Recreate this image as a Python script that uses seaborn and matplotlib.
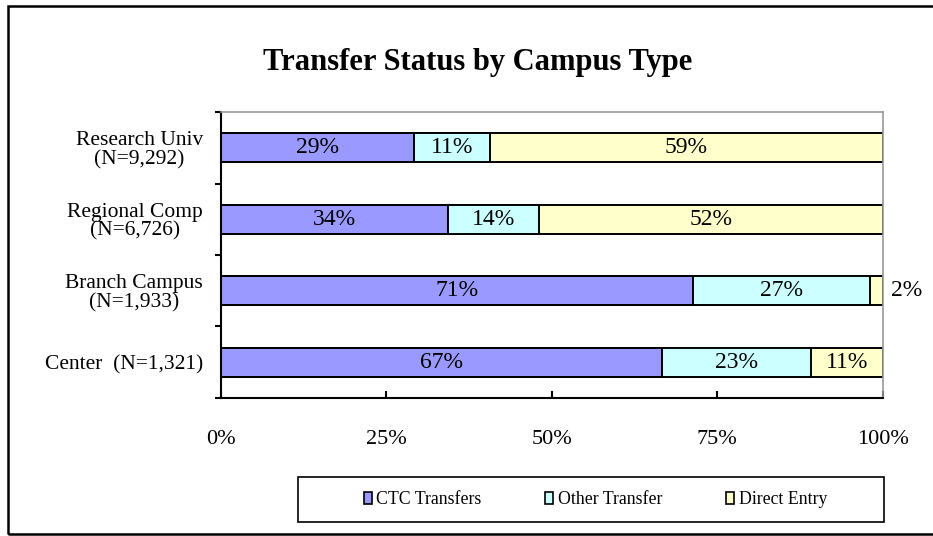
import matplotlib
matplotlib.use("Agg")
import matplotlib.pyplot as plt
import seaborn as sns
import pandas as pd
from matplotlib.patches import Patch, Rectangle

# values (percent of students per campus type)
campuses = ["Research Univ\n(N=9,292)", "Regional Comp\n(N=6,726)",
            "Branch Campus\n(N=1,933)", "Center  (N=1,321)"]
ctc_transfers = [29.2, 34.3, 71.3, 66.6]
other_transfer = [11.4, 13.8, 26.8, 22.6]
direct_entry = [59.4, 51.9, 1.9, 10.8]
series_names = ["CTC Transfers", "Other Transfer", "Direct Entry"]
colors = ["#9999FF", "#CCFFFF", "#FFFFCC"]

df = pd.DataFrame({"campus": campuses, "ctc": ctc_transfers,
                   "other": other_transfer, "direct": direct_entry})
df["cum_other"] = df["ctc"] + df["other"]
df["cum_direct"] = df["cum_other"] + df["direct"]

sns.set_style("white", {"text.color": "black", "xtick.color": "black",
                        "ytick.color": "black", "axes.labelcolor": "black"})
plt.rcParams["font.family"] = ["Liberation Serif", "DejaVu Serif"]

fig = plt.figure(figsize=(9.33, 5.36), dpi=100)
ax = fig.add_axes([0.237, 0.2575, 0.709, 0.5335])

# stacked bars: draw cumulative totals back to front
for col, c in zip(["cum_direct", "cum_other", "ctc"], colors[::-1]):
    sns.barplot(data=df, x=col, y="campus", orient="h", color=c, saturation=1,
                edgecolor="black", linewidth=1.4, width=0.41, ax=ax)

# segment labels
for i, row in df.iterrows():
    starts = [0, row["ctc"], row["cum_other"]]
    vals = [row["ctc"], row["other"], row["direct"]]
    for s, v in zip(starts, vals):
        if v < 4:
            ax.text(101.3, i, f"{v:.0f}%", va="center", ha="left", fontsize=17)
        else:
            ax.text(s + v / 2, i, f"{v:.0f}%", va="center", ha="center", fontsize=17)

ax.set_xlim(0, 100)
ax.set_ylim(3.5, -0.5)
ax.set_xticks([0, 25, 50, 75, 100])
ax.set_xticklabels(["0%", "25%", "50%", "75%", "100%"], fontsize=16)
ax.set_yticks([-0.5, 0.5, 1.5, 2.5, 3.5])
ax.set_yticklabels([])
ax.set_yticks(range(len(campuses)), minor=True)
ax.set_yticklabels(campuses, minor=True, fontsize=15.5, multialignment="center",
                   linespacing=1.0)
ax.tick_params(axis="y", which="major", direction="out", length=4, width=1.5)
ax.tick_params(axis="y", which="minor", length=0, pad=13)
ax.tick_params(axis="x", direction="in", length=5, width=1.5, pad=23)
ax.tick_params(left=True, bottom=True)
ax.set_xlabel("")
ax.set_ylabel("")

for side in ["left", "bottom"]:
    ax.spines[side].set_color("black")
    ax.spines[side].set_linewidth(1.5)
for side in ["top", "right"]:
    ax.spines[side].set_color("#999999")
    ax.spines[side].set_linewidth(1.2)

fig.text(0.512, 0.883, "Transfer Status by Campus Type", ha="center", va="center",
         fontsize=22, fontweight="bold")

# legend: frame drawn separately, entries centred inside it
fig.patches.append(Rectangle((0.3195, 0.026), 0.628, 0.084, transform=fig.transFigure,
                             fill=False, edgecolor="black", linewidth=1.2))
handles = [Patch(facecolor=c, edgecolor="black", linewidth=1.2) for c in colors]
fig.legend(handles, series_names, loc="center", ncol=3,
           bbox_to_anchor=(0.638, 0.068), frameon=False, fontsize=12.8,
           handlelength=0.45, handleheight=0.65, handletextpad=0.25,
           columnspacing=3.6)

# outer chart border (right edge runs off the image)
fig.patches.append(Rectangle((0.009, 0.004), 1.0, 0.985, transform=fig.transFigure,
                             fill=False, edgecolor="black", linewidth=1.8))

fig.savefig("out.png", dpi=100)
